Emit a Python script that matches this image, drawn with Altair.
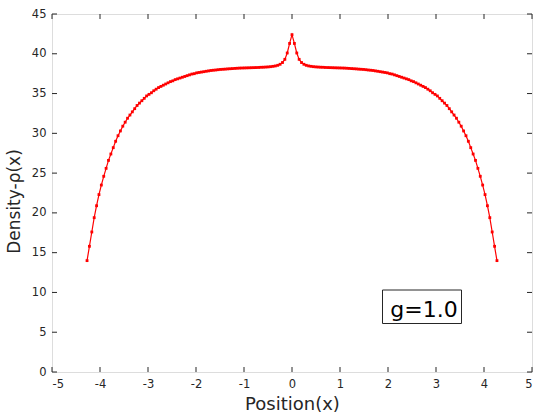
import altair as alt
import numpy as np
import pandas as pd

# Density values, x from -4.27 to 4.27 on an even grid
density_left = [14.0, 15.8, 17.6, 19.4, 20.9, 22.3, 23.5, 24.6, 25.6, 26.6, 27.4, 28.2, 29.0, 29.7,
                30.3, 30.9, 31.4, 31.9, 32.3, 32.7, 33.1, 33.5, 33.8, 34.1, 34.4, 34.7, 34.9, 35.1,
                35.35, 35.55, 35.75, 35.9, 36.05, 36.2, 36.35, 36.5, 36.6, 36.75, 36.85, 36.95,
                37.05, 37.15, 37.25, 37.35, 37.45, 37.5, 37.6, 37.65, 37.7, 37.75, 37.8, 37.85,
                37.9, 37.93, 37.96, 38.0, 38.03, 38.05, 38.07, 38.1, 38.12, 38.14, 38.16, 38.18,
                38.2, 38.21, 38.22, 38.23, 38.24, 38.25, 38.26, 38.27, 38.28, 38.3, 38.31, 38.33,
                38.35, 38.38, 38.42, 38.47, 38.55, 38.68, 38.9, 39.3, 40.1, 41.3, 42.4]
density_right = [41.3, 40.1, 39.3, 38.9, 38.68, 38.55, 38.47, 38.42, 38.38, 38.35, 38.33, 38.31,
                 38.3, 38.28, 38.27, 38.26, 38.25, 38.24, 38.23, 38.22, 38.21, 38.2, 38.18, 38.16,
                 38.14, 38.12, 38.1, 38.07, 38.05, 38.03, 38.0, 37.96, 37.93, 37.9, 37.85, 37.8,
                 37.75, 37.7, 37.65, 37.6, 37.5, 37.45, 37.35, 37.25, 37.15, 37.05, 36.95, 36.85,
                 36.75, 36.6, 36.5, 36.35, 36.2, 36.05, 35.9, 35.75, 35.55, 35.35, 35.1, 34.9,
                 34.7, 34.4, 34.1, 33.8, 33.5, 33.1, 32.7, 32.3, 31.9, 31.4, 30.9, 30.3, 29.7,
                 29.0, 28.2, 27.4, 26.6, 25.6, 24.6, 23.5, 22.3, 20.9, 19.4, 17.6, 15.8, 14.0]
density = density_left + density_right
positions = list(np.round(np.linspace(-4.27, 4.27, len(density)), 4))

x_ticks = [-5, -4, -3, -2, -1, 0, 1, 2, 3, 4, 5]
y_ticks = [0, 5, 10, 15, 20, 25, 30, 35, 40, 45]
annotation = ["g=1.0"]

W, H = 480, 358
AX = "#262626"
FONT = "DejaVu Sans"

df = pd.DataFrame({"x": positions, "rho": density})
xs = alt.Scale(domain=[-5, 5], nice=False, zero=False)
ys = alt.Scale(domain=[0, 45], nice=False, zero=False)

xaxis = alt.Axis(values=x_ticks, ticks=False, grid=False, domain=False, labelFontSize=11.5,
                 labelColor=AX, labelPadding=6, titleFontSize=18, titleFontWeight="normal",
                 titleColor=AX, titlePadding=6, labelFont=FONT, titleFont=FONT,
                 labelExpr="'' + datum.value")
yaxis = alt.Axis(values=y_ticks, ticks=False, grid=False, domain=False, labelFontSize=11.5,
                 labelColor=AX, labelPadding=6, titleFontSize=17, titleFontWeight="normal",
                 titleColor=AX, titlePadding=8, labelFont=FONT, titleFont=FONT,
                 labelExpr="'' + datum.value", titleY=187)

line = alt.Chart(df).mark_line(color="#ff0000", strokeWidth=1.2).encode(
    x=alt.X("x:Q", scale=xs, axis=xaxis, title="Position(x)"),
    y=alt.Y("rho:Q", scale=ys, axis=yaxis, title="Density-ρ(x)"),
)
pts = alt.Chart(df).mark_point(color="#ff0000", filled=True, size=8, opacity=1, shape="square").encode(
    x=alt.X("x:Q", scale=xs, axis=xaxis, title="Position(x)"),
    y=alt.Y("rho:Q", scale=ys, axis=yaxis, title="Density-ρ(x)"),
)

xt = pd.DataFrame({"x": x_ticks})
yt = pd.DataFrame({"rho": y_ticks})
xtick_b = alt.Chart(xt).mark_rule(color=AX, strokeWidth=1).encode(
    x=alt.X("x:Q", scale=xs, axis=xaxis, title="Position(x)"), y=alt.value(H), y2=alt.value(H - 5))
xtick_t = alt.Chart(xt).mark_rule(color=AX, strokeWidth=1).encode(
    x=alt.X("x:Q", scale=xs, axis=xaxis, title="Position(x)"), y=alt.value(0), y2=alt.value(5))
ytick_l = alt.Chart(yt).mark_rule(color=AX, strokeWidth=1).encode(
    y=alt.Y("rho:Q", scale=ys, axis=yaxis, title="Density-ρ(x)"), x=alt.value(0), x2=alt.value(5))
ytick_r = alt.Chart(yt).mark_rule(color=AX, strokeWidth=1).encode(
    y=alt.Y("rho:Q", scale=ys, axis=yaxis, title="Density-ρ(x)"), x=alt.value(W), x2=alt.value(W - 5))

ann = pd.DataFrame({"label": annotation})
box = alt.Chart(ann).mark_rect(fill="white", stroke=AX, strokeWidth=1).encode(
    x=alt.value(330.5), x2=alt.value(409.5), y=alt.value(276), y2=alt.value(309.5))
txt = alt.Chart(ann).mark_text(fontSize=22, font=FONT, color="black", align="center",
                               baseline="alphabetic").encode(
    x=alt.value(372), y=alt.value(303), text="label:N")

chart = alt.layer(line, pts, xtick_b, xtick_t, ytick_l, ytick_r, box, txt).properties(
    width=W, height=H,
    autosize=alt.AutoSizeParams(type="none"),
    padding={"left": 52, "top": 14, "right": 12, "bottom": 46},
).configure_view(stroke=AX, strokeWidth=1).configure(background="white")

chart.save("out.html", embed_options={"renderer": "svg", "actions": False})
